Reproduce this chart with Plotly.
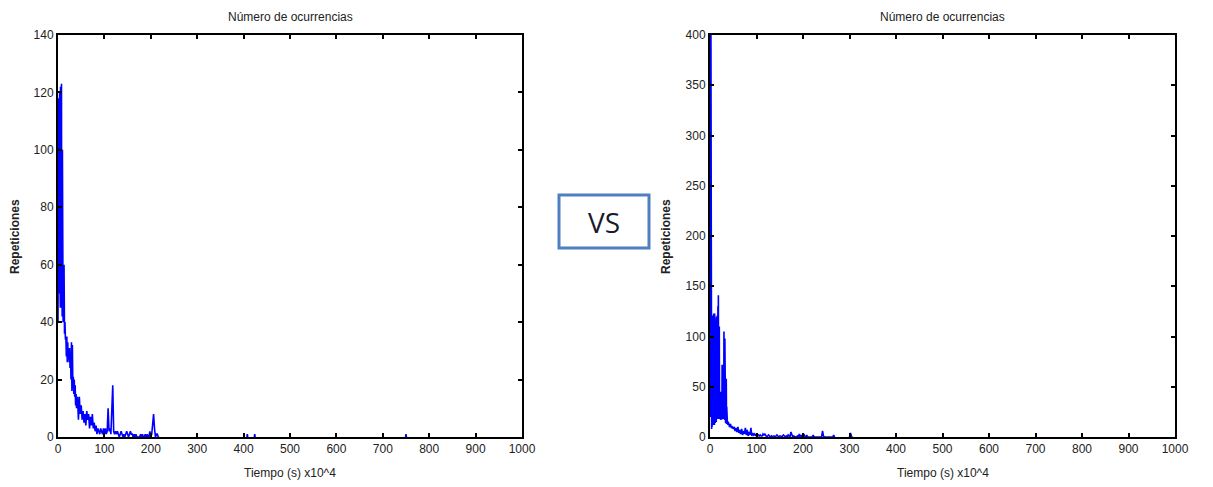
import plotly.graph_objects as go

# ---------------- data ----------------
# None marks long stretches with no occurrences (drawn as gaps)
left_x = [0, 0.5, 1, 1.5, 2, 2.5, 3, 3.5, 4, 4.5, 5, 5.5, 6, 6.5, 7, 7.5, 8, 8.5, 9, 9.5,
          10, 10.5, 11, 11.5, 12, 13, 14, 15, 16, 17, 18, 19,
          20, 21, 22, 23, 24, 25, 26, 27, 28, 29, 30, 31, 32, 33, 34, 35, 36, 37, 38, 39, 40,
          42, 44, 46, 48, 50, 52, 54, 56, 58, 60, 62, 64, 66, 68, 70, 72, 74, 76, 78,
          80, 82, 84, 86, 88, 90, 92, 94, 96, 98, 100, 102, 104, 106, 108, 110, 112, 114,
          116, 118, 120, 122, 124, 126, 128, 130, 132, 134, 136, 138, 140, 142, 144, 146,
          148, 150, 152, 154, 156, 158, 160, 162, 164, 166, 168, 170, 172, 174, 176, 178,
          180, 182, 184, 186, 188, 190, 192, 194, 196, 198, 200, 202, 204, 206, 208, 210,
          212, 214, 216, 218, 219,
          407, 408, 409, 410, 423, 424, 425, 426, 749, 750, 751]
left_y = [40, 100, 60, 118, 70, 110, 50, 120, 60, 95, 45, 122, 55, 80, 45, 123, 50, 60, 42, 100,
          40, 67, 40, 55, 40, 60, 36, 40, 34, 35, 28, 35,
          26, 33, 27, 30, 26, 31, 24, 29, 20, 33, 16, 32, 17, 21, 15, 20, 14, 18, 11, 15, 10,
          14, 6, 14, 8, 11, 6, 9, 5, 8, 4, 9, 6, 8, 3, 7, 4, 8, 3, 5,
          2, 4, 1, 3, 2, 1, 3, 2, 1, 3, 1, 3, 1, 2, 10, 2, 3, 1,
          13, 18, 2, 1, 2, 1, 2, 1, 0, 1, 2, 1, 0, 1, 0, 1,
          2, 1, 0, 1, 2, 1, 1, 0, 1, 0, 1, 0, 0, 0, 0, 1,
          0, 1, 0, 0, 1, 0, 1, 0, 0, 2, 0, 1, 6, 8, 3, 0,
          1, 1, 0, 0, None,
          0, 1, 0, None, 0, 1, 0, None, 0, 1, 0]

right_x = [0, 0.5, 1, 1.5, 2, 2.5, 3, 3.5, 4, 4.5, 5, 5.5, 6, 6.5, 7, 7.5, 8, 8.5, 9, 9.5,
           10, 10.5, 11, 11.5, 12, 12.5, 13, 13.5, 14, 14.5,
           15, 15.5, 16, 16.5, 17, 17.5, 18, 18.5, 19, 19.5, 20, 20.5, 21, 21.5, 22, 22.5,
           23, 23.5, 24, 24.5, 25, 25.5, 26, 26.5, 27, 27.5, 28, 28.5, 29, 29.5, 30, 30.5,
           31, 31.5, 32, 32.5, 33, 33.5, 34, 34.5, 35, 35.5, 36, 36.5, 37, 37.5, 38, 38.5,
           39, 39.5, 40,
           42, 44, 46, 48, 50, 52, 54, 56, 58, 60, 62, 64, 66, 68, 70, 72, 74, 76, 78,
           80, 82, 84, 86, 88, 90, 92, 94, 96, 98, 100, 102, 104, 106, 108, 110, 112, 114,
           116, 118, 120, 122, 124, 126, 128, 130, 132, 134, 136, 138, 140, 142, 144, 146,
           148, 150, 152, 154, 156, 158, 160, 162, 164, 166, 168, 170, 172, 174, 176, 178,
           180, 182, 184, 186, 188, 190, 192, 194, 196, 198, 200, 202, 204, 206, 208, 210,
           220, 222, 224, 240, 242, 244, 246, 264, 266, 268, 269,
           300, 302, 304, 306]
right_y = [405, 30, 410, 20, 405, 15, 400, 8, 118, 10, 121, 14, 115, 12, 120, 20, 123, 15, 110, 12,
           123, 18, 112, 14, 118, 20, 108, 15, 120, 19,
           95, 20, 121, 18, 130, 20, 141, 18, 125, 20, 110, 18, 60, 19, 43, 18,
           45, 17, 42, 18, 40, 18, 72, 18, 70, 19, 72, 18, 68, 20, 105, 18,
           100, 17, 98, 15, 58, 14, 56, 14, 58, 13, 30, 13, 15, 13, 14, 12,
           15, 13, 14,
           10, 13, 9, 10, 8, 10, 6, 9, 5, 10, 4, 7, 3, 8, 2, 6, 3, 9, 2,
           7, 1, 5, 2, 9, 1, 4, 2, 3, 1, 3, 1, 2, 1, 2, 1, 1, 3,
           2, 3, 1, 0, 1, 2, 1, 0, 1, 0, 1, 1, 0, 1, 2, 1,
           0, 1, 1, 0, 1, 2, 1, 0, 1, 0, 2, 1, 0, 5, 2, 0,
           1, 0, 0, 0, 1, 0, 3, 0, 2, 0, 0, 3, 0, 0, 2, 0,
           0, 2, 0, 0, 6, 1, 0, 0, 2, 0, None,
           0, 4, 1, 0]

x_ticks = [0, 100, 200, 300, 400, 500, 600, 700, 800, 900, 1000]
left_y_ticks = [0, 20, 40, 60, 80, 100, 120, 140]
right_y_ticks = [0, 50, 100, 150, 200, 250, 300, 350, 400]

title_text = "Número de ocurrencias"
x_title = "Tiempo (s) x10^4"
y_title = "Repeticiones"

# ---------------- figure ----------------
W, H = 1213, 487
OFF = 8  # default page body margin
FONT = "Liberation Sans, Arial, sans-serif"
fig = go.Figure()
fig.add_trace(go.Scatter(x=left_x, y=left_y, mode="lines", connectgaps=False,
                         line=dict(color="#0000ff", width=1.6), xaxis="x", yaxis="y",
                         showlegend=False, hoverinfo="skip"))
fig.add_trace(go.Scatter(x=right_x, y=right_y, mode="lines", connectgaps=False,
                         line=dict(color="#0000ff", width=1.6), xaxis="x2", yaxis="y2",
                         showlegend=False, hoverinfo="skip"))

def px_x(p):
    return (p - OFF) / W

def px_y(p):
    return 1 - (p - OFF) / H

ax_common = dict(showline=True, linecolor="black", linewidth=2, mirror="ticks",
                 ticks="inside", ticklen=4, tickcolor="black", tickwidth=1.5, showgrid=False,
                 zeroline=False, automargin=False,
                 tickfont=dict(family=FONT, size=12, color="#222222"))

y_dom = [px_y(437), px_y(35)]
fig.update_layout(
    width=W, height=H, template="none",
    paper_bgcolor="white", plot_bgcolor="white",
    margin=dict(l=0, r=0, t=0, b=0),
    xaxis=dict(domain=[px_x(58), px_x(522)], range=[0, 1000], tickvals=x_ticks,
               anchor="y", **ax_common),
    yaxis=dict(domain=y_dom, range=[0, 140], tickvals=left_y_ticks, anchor="x", **ax_common),
    xaxis2=dict(domain=[px_x(710), px_x(1175)], range=[0, 1000], tickvals=x_ticks,
                anchor="y2", **ax_common),
    yaxis2=dict(domain=y_dom, range=[0, 400], tickvals=right_y_ticks, anchor="x2", **ax_common),
)

annots = []
for cx, ylab_x in [((58 + 522) / 2, 15), ((710 + 1175) / 2, 666)]:
    annots.append(dict(x=px_x(cx), y=px_y(17), xref="paper", yref="paper",
                       xanchor="center", yanchor="middle",
                       text=title_text, showarrow=False,
                       font=dict(family=FONT, size=12, color="#222222")))
    annots.append(dict(x=px_x(cx), y=px_y(473), xref="paper", yref="paper",
                       xanchor="center", yanchor="middle",
                       text=x_title, showarrow=False,
                       font=dict(family=FONT, size=12, color="#222222")))
    annots.append(dict(x=px_x(ylab_x), y=px_y(237), xref="paper", yref="paper",
                       xanchor="center", yanchor="middle",
                       text="<b>" + y_title + "</b>", showarrow=False, textangle=-90,
                       font=dict(family=FONT, size=12, color="#222222")))
annots.append(dict(x=px_x(603.5), y=px_y(222), xref="paper", yref="paper",
                   xanchor="center", yanchor="middle",
                   text="VS", showarrow=False,
                   font=dict(family="Open Sans, sans-serif", size=28, color="#1a1a2a")))
fig.update_layout(annotations=annots)

fig.add_shape(type="rect", xref="paper", yref="paper",
              x0=px_x(559), x1=px_x(649), y0=px_y(248), y1=px_y(195),
              line=dict(color="#4f7fc0", width=3), fillcolor="white", layer="below")

fig.write_html("out.html")
